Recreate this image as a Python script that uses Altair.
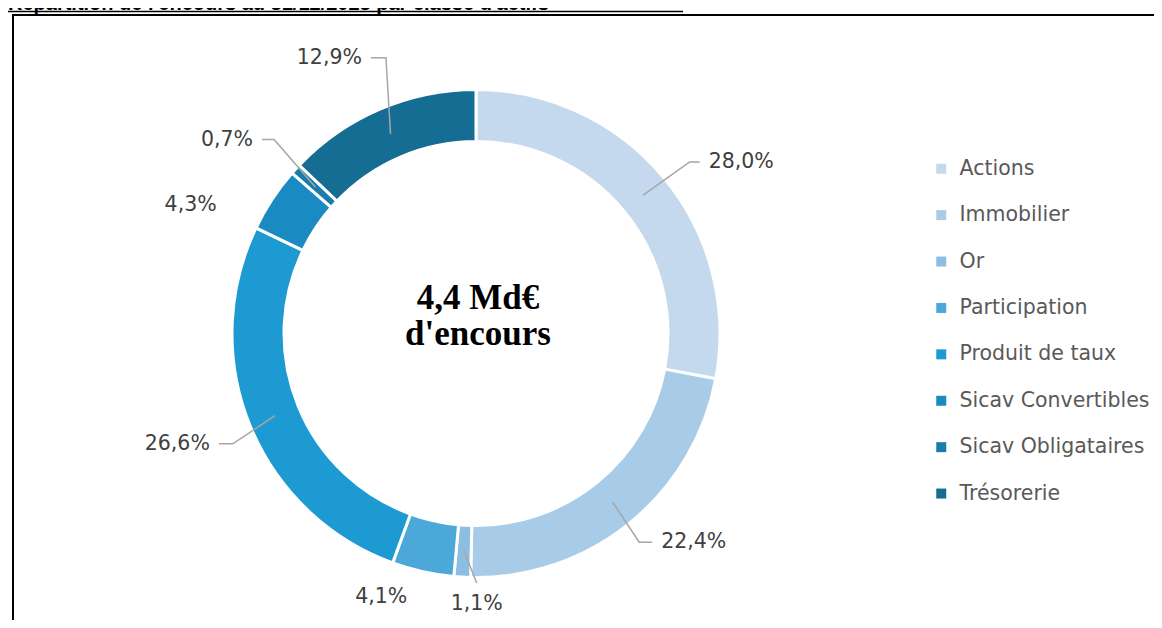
import math
import altair as alt
import pandas as pd

# ---------------- data ----------------
categories = ["Actions", "Immobilier", "Or", "Participation", "Produit de taux",
              "Sicav Convertibles", "Sicav Obligataires", "Trésorerie"]
shares = [28.0, 22.4, 1.1, 4.1, 26.6, 4.3, 0.7, 12.9]
labels = ["28,0%", "22,4%", "1,1%", "4,1%", "26,6%", "4,3%", "0,7%", "12,9%"]
colors = ["#c4d9ee", "#a8cbe7", "#8dbde0", "#4da8da", "#1c9ad1", "#1a8ac2", "#1b7bab", "#166d94"]
title_text = "Répartition de l'encours au 31/12/2023 par classe d'actifs"
center_lines = ["4,4 Md€", "d'encours"]

# ---------------- layout ----------------
W, H = 1146, 612
CX, CY = 468, 325.5
R_OUT, R_IN, R_MID = 244, 192, 217
GAP = 9
FONT = "DejaVu Sans"
FS = 20.5
# per label: leader elbow radius / angle nudge / horizontal length / side
LAYOUT = [
    dict(leader=True, r=274, nudge=0.9, h=10, side="right"),
    dict(leader=True, r=265, nudge=1.0, h=13, side="right"),
    dict(leader=True, r=249.5, nudge=-3.4, h=0, side="below"),
    dict(leader=False, r=280, nudge=7.2),
    dict(leader=True, r=267, nudge=-2.2, h=14, side="left"),
    dict(leader=False, r=313, nudge=-9.1),
    dict(leader=True, r=280, nudge=1.5, h=12, side="left"),
    dict(leader=True, r=290, nudge=5.1, h=15, side="left"),
]

total = sum(shares)
mids, cum = [], 0.0
for s in shares:
    mids.append((cum + s / 2) / total * 360)
    cum += s


def polar(r, deg):
    a = math.radians(deg)
    return CX + r * math.sin(a), CY - r * math.cos(a)


line_rows, text_rows = [], []
for i, cat in enumerate(categories):
    lay = LAYOUT[i]
    if lay["leader"]:
        p0 = polar(R_MID, mids[i])
        p1 = polar(lay["r"], mids[i] + lay["nudge"])
        pts = [p0, p1]
        if lay["side"] in ("left", "right"):
            d = 1 if lay["side"] == "right" else -1
            p2 = (p1[0] + d * lay["h"], p1[1])
            pts.append(p2)
            text_rows.append(dict(x=p2[0] + d * GAP, y=p2[1], label=labels[i],
                                  align="left" if lay["side"] == "right" else "right"))
        else:
            text_rows.append(dict(x=p1[0], y=p1[1] + 21, label=labels[i], align="center"))
        for k, (x, y) in enumerate(pts):
            line_rows.append(dict(key=cat, ord=k, x=x, y=y))
    else:
        x, y = polar(lay["r"], mids[i] + lay["nudge"])
        text_rows.append(dict(x=x, y=y, label=labels[i], align="center"))

arc_df = pd.DataFrame(dict(cat=categories, share=shares, idx=list(range(len(categories)))))
line_df = pd.DataFrame(line_rows)
text_df = pd.DataFrame(text_rows)

X = lambda f: alt.X(f, scale=None, axis=None)
Y = lambda f: alt.Y(f, scale=None, axis=None)

frame_v = alt.Chart(arc_df).mark_rule(color="black", strokeWidth=2).encode(
    x=alt.value(5), y=alt.value(6), y2=alt.value(H))
frame_h = alt.Chart(arc_df).mark_rule(color="black", strokeWidth=2).encode(
    y=alt.value(7), x=alt.value(4), x2=alt.value(W))

title_df = pd.DataFrame(dict(t=[title_text]))
title = alt.Chart(title_df).mark_text(font="Liberation Sans", fontSize=20, fontWeight="bold",
                                      align="left", baseline="alphabetic", color="black").encode(
    text="t:N", x=alt.value(0), y=alt.value(2))
underline = alt.Chart(title_df).mark_rule(color="black", strokeWidth=1.5).encode(
    y=alt.value(3.5), x=alt.value(0), x2=alt.value(675))

arcs = alt.Chart(arc_df).mark_arc(outerRadius=R_OUT, innerRadius=R_IN, stroke="white", strokeWidth=3).encode(
    theta=alt.Theta("share:Q", stack=True),
    order=alt.Order("idx:Q"),
    color=alt.Color("cat:N", sort=categories,
                    scale=alt.Scale(domain=categories, range=colors),
                    legend=alt.Legend(title=None, orient="none", legendX=923, legendY=150.5,
                                      symbolType="square", symbolSize=100, symbolStrokeWidth=0,
                                      labelFont=FONT, labelFontSize=FS, labelColor="#595959",
                                      labelOffset=8, rowPadding=25.4, padding=0, labelLimit=400)),
    x=alt.value(CX), y=alt.value(CY),
)

lines = alt.Chart(line_df).mark_line(color="#a6a6a6", strokeWidth=1.5).encode(
    x=X("x:Q"), y=Y("y:Q"), detail="key:N", order="ord:Q")

text_layers = []
for al in ("left", "right", "center"):
    sub = text_df[text_df["align"] == al]
    if len(sub):
        text_layers.append(alt.Chart(sub).mark_text(font=FONT, fontSize=FS, color="#404040",
                                                     align=al, baseline="middle").encode(
            x=X("x:Q"), y=Y("y:Q"), text="label:N"))

center_df = pd.DataFrame(dict(t=center_lines, k=[0, 1]))
center = [
    alt.Chart(center_df[center_df.k == k]).mark_text(font="Liberation Serif", fontSize=35, fontWeight="bold",
                                                      color="black", align="center", baseline="middle").encode(
        text="t:N", x=alt.value(470), y=alt.value(290 + 36 * k))
    for k in (0, 1)
]

chart = alt.layer(frame_v, frame_h, title, underline, arcs, lines, *text_layers, *center).properties(
    width=W, height=H, padding=0, autosize="none"
).configure_view(stroke=None)

chart.save("out.html", embed_options={"renderer": "svg", "actions": False})
